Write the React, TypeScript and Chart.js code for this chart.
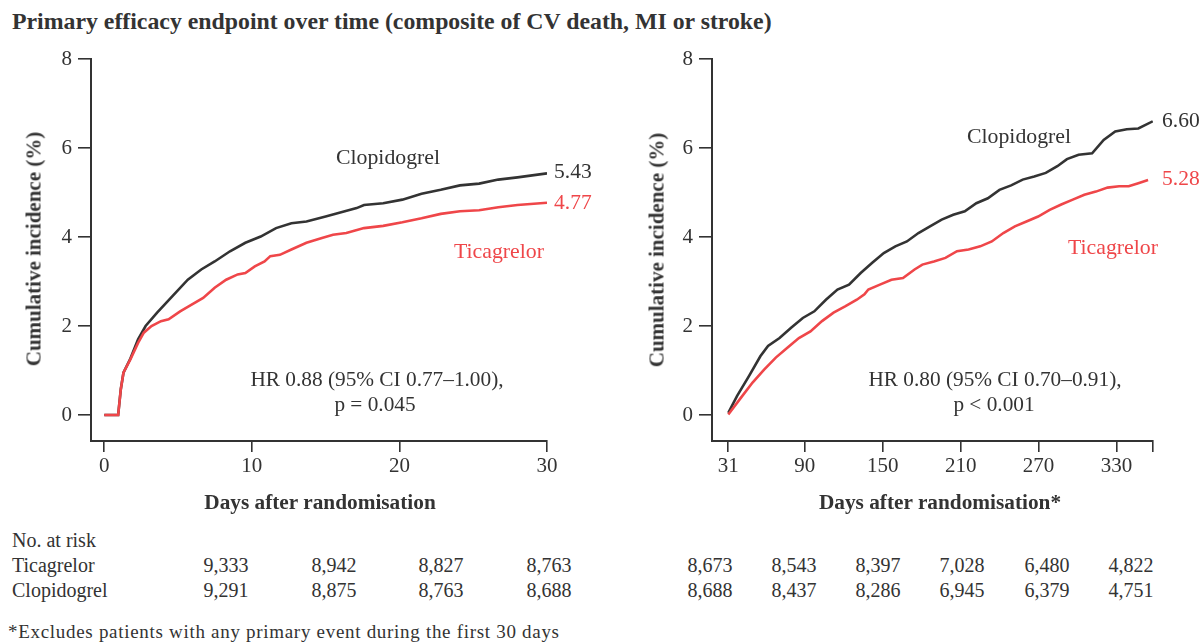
import React, { useEffect, useRef } from 'react';
import { Chart, registerables } from 'chart.js';

Chart.register(...registerables);

const FONT = '"Liberation Serif", "Times New Roman", serif';
const INK = '#333333';
const RED = '#ef4649';

// ---------- data ----------
const yTickValues = [0, 2, 4, 6, 8];

const leftXTickValues = [0, 10, 20, 30];
const leftXTickLabels = ['0', '10', '20', '30'];

const rightXTickValues = [31, 90, 150, 210, 270, 330, 358];
const rightXTickLabels = ['31', '90', '150', '210', '270', '330', ''];

// Left panel: days 0-30
const leftTicaDays = [0, 0.94, 1.12, 1.3, 1.77, 2.29, 2.68, 3.2, 3.84, 4.36, 5.14, 5.92, 6.7, 7.48, 8.26, 9.04, 9.56, 10.2, 10.86, 11.25, 11.9, 12.68, 13.7, 14.75, 15.5, 16.4, 17.6, 18.9, 20.2, 21.5, 22.8, 24.1, 25.4, 26.7, 28.0, 30];
const leftTicaPct = [0, 0, 0.58, 0.95, 1.25, 1.62, 1.85, 2.0, 2.11, 2.15, 2.33, 2.48, 2.63, 2.86, 3.04, 3.16, 3.19, 3.34, 3.45, 3.57, 3.6, 3.72, 3.87, 3.98, 4.05, 4.09, 4.2, 4.25, 4.33, 4.42, 4.52, 4.58, 4.6, 4.67, 4.72, 4.77];

const leftClopDays = [0, 0.94, 1.12, 1.3, 1.77, 2.29, 2.8, 3.58, 4.62, 5.66, 6.57, 7.48, 8.52, 9.56, 10.6, 11.64, 12.68, 13.7, 15.0, 16.3, 17.1, 17.6, 18.9, 20.2, 21.5, 22.8, 24.1, 25.4, 26.7, 28.0, 30];
const leftClopPct = [0, 0, 0.58, 0.95, 1.27, 1.7, 2.0, 2.3, 2.67, 3.04, 3.27, 3.45, 3.68, 3.87, 4.01, 4.2, 4.31, 4.35, 4.46, 4.58, 4.65, 4.72, 4.76, 4.84, 4.97, 5.06, 5.16, 5.2, 5.29, 5.34, 5.43];

// Right panel: days 31-360
const rightTicaDays = [31, 40.8, 49.7, 58.6, 67.6, 76.5, 85.4, 94.3, 103.2, 112.1, 121, 130, 135.9, 138.9, 147.8, 156.7, 165.6, 174.5, 180.5, 189.4, 198.3, 207.2, 216.1, 225.1, 234, 242.9, 251.8, 260.7, 269.7, 278.6, 287.5, 296.4, 305.3, 314.2, 323.2, 332.1, 339.5, 346.9, 354.4];
const rightTicaPct = [0.01, 0.39, 0.73, 1.02, 1.29, 1.51, 1.73, 1.88, 2.11, 2.3, 2.44, 2.59, 2.71, 2.82, 2.93, 3.04, 3.08, 3.27, 3.38, 3.45, 3.53, 3.68, 3.72, 3.79, 3.9, 4.09, 4.24, 4.35, 4.46, 4.61, 4.73, 4.84, 4.95, 5.02, 5.11, 5.14, 5.14, 5.21, 5.28];

const rightClopDays = [31, 37.8, 46.8, 55.7, 61.6, 70.5, 79.4, 88.4, 97.3, 106.2, 115.1, 124, 133, 141.9, 150.8, 159.7, 168.6, 177.5, 186.4, 195.4, 204.3, 213.2, 222.1, 231, 239.9, 248.9, 257.8, 266.7, 275.6, 284.5, 291.9, 300.9, 311.3, 320.2, 329.1, 338, 346.9, 358];
const rightClopPct = [0.05, 0.43, 0.87, 1.32, 1.55, 1.73, 1.96, 2.18, 2.33, 2.59, 2.82, 2.93, 3.19, 3.42, 3.64, 3.79, 3.9, 4.09, 4.24, 4.39, 4.5, 4.58, 4.76, 4.87, 5.06, 5.16, 5.29, 5.36, 5.44, 5.59, 5.75, 5.85, 5.88, 6.18, 6.37, 6.42, 6.44, 6.6];

// Numbers at risk
const riskLeftTica = ['9,333', '8,942', '8,827', '8,763'];
const riskLeftClop = ['9,291', '8,875', '8,763', '8,688'];
const riskRightTica = ['8,673', '8,543', '8,397', '7,028', '6,480', '4,822'];
const riskRightClop = ['8,688', '8,437', '8,286', '6,945', '6,379', '4,751'];

// ---------- helpers ----------
const toPoints = (xs: number[], ys: number[]) => xs.map((x, i) => ({ x, y: ys[i] }));

type PanelProps = {
  left: number;
  width: number;
  height: number;
  padding: { left: number; right: number; top: number; bottom: number };
  xMin: number;
  xMax: number;
  xTicks: number[];
  xLabels: string[];
  yMin: number;
  tica: { x: number; y: number }[];
  clop: { x: number; y: number }[];
};

function Panel(p: PanelProps) {
  const ref = useRef<HTMLCanvasElement | null>(null);
  useEffect(() => {
    if (!ref.current) return;
    const tickFont = { family: FONT, size: 21 };
    const chart = new Chart(ref.current, {
      type: 'line',
      data: {
        datasets: [
          {
            label: 'Ticagrelor',
            data: p.tica,
            borderColor: RED,
            borderWidth: 2.6,
            pointRadius: 0,
            tension: 0,
            fill: false,
          },
          {
            label: 'Clopidogrel',
            data: p.clop,
            borderColor: INK,
            borderWidth: 2.6,
            pointRadius: 0,
            tension: 0,
            fill: false,
          },
        ],
      },
      options: {
        animation: false,
        responsive: false,
        maintainAspectRatio: false,
        devicePixelRatio: 1,
        layout: { padding: p.padding },
        plugins: { legend: { display: false }, tooltip: { enabled: false }, title: { display: false } },
        scales: {
          x: {
            type: 'linear',
            min: p.xMin,
            max: p.xMax,
            afterBuildTicks: (s: any) => {
              s.ticks = p.xTicks.map((v) => ({ value: v }));
            },
            afterFit: (s: any) => {
              s.height = 40;
            },
            ticks: {
              font: tickFont,
              color: INK,
              padding: 2,
              autoSkip: false,
              maxRotation: 0,
              callback: (_v: any, i: number) => p.xLabels[i],
            },
            grid: { drawOnChartArea: false, drawTicks: true, tickLength: 11, color: INK, lineWidth: 1.6 },
            border: { display: true, color: INK, width: 2 },
          },
          y: {
            type: 'linear',
            min: p.yMin,
            max: 8,
            afterBuildTicks: (s: any) => {
              s.ticks = yTickValues.map((v) => ({ value: v }));
            },
            afterFit: (s: any) => {
              s.width = 60;
            },
            ticks: { font: tickFont, color: INK, padding: 6, autoSkip: false, callback: (v: any) => String(v) },
            grid: { drawOnChartArea: false, drawTicks: true, tickLength: 13, color: INK, lineWidth: 1.6 },
            border: { display: true, color: INK, width: 2 },
          },
        },
      },
    } as any);
    return () => chart.destroy();
  }, []);
  return (
    <canvas
      ref={ref}
      width={p.width}
      height={p.height}
      style={{ position: 'absolute', left: p.left, top: 40, width: p.width, height: p.height }}
    />
  );
}

type TxtProps = {
  x: number;
  y: number;
  children: React.ReactNode;
  size?: number;
  bold?: boolean;
  color?: string;
  align?: 'left' | 'center';
  rotate?: boolean;
  spacing?: number;
};

function Txt({ x, y, children, size = 21, bold = false, color = INK, align = 'left', rotate = false, spacing = 0 }: TxtProps) {
  const tx = align === 'center' ? '-50%' : '0';
  return (
    <div
      style={{
        position: 'absolute',
        left: x,
        top: y,
        transform: rotate ? 'translate(-50%, -50%) rotate(-90deg)' : `translate(${tx}, -50%)`,
        fontFamily: FONT,
        fontSize: size,
        fontWeight: bold ? 'bold' : 'normal',
        color,
        whiteSpace: 'nowrap',
        lineHeight: 1,
        letterSpacing: spacing,
        textAlign: align,
      }}
    >
      {children}
    </div>
  );
}

const leftRiskX = [226, 334, 441, 549];
const rightRiskX = [710, 794, 878, 962, 1047, 1131];

export default function App() {
  return (
    <div style={{ position: 'absolute', left: 0, top: 0, width: 1204, height: 644, background: '#fff', overflow: 'hidden' }}>
      <Txt x={12} y={22} bold size={23.8}>
        Primary efficacy endpoint over time (composite of CV death, MI or stroke)
      </Txt>

      <Panel
        left={0}
        width={600}
        height={480}
        padding={{ left: 31, right: 53, top: 19, bottom: 39 }}
        xMin={-0.9}
        xMax={30}
        xTicks={leftXTickValues}
        xLabels={leftXTickLabels}
        yMin={-0.584}
        tica={toPoints(leftTicaDays, leftTicaPct)}
        clop={toPoints(leftClopDays, leftClopPct)}
      />
      <Panel
        left={602}
        width={602}
        height={480}
        padding={{ left: 50, right: 51, top: 19, bottom: 39 }}
        xMin={18.45}
        xMax={358.2}
        xTicks={rightXTickValues}
        xLabels={rightXTickLabels}
        yMin={-0.584}
        tica={toPoints(rightTicaDays, rightTicaPct)}
        clop={toPoints(rightClopDays, rightClopPct)}
      />

      {/* axis titles */}
      <Txt x={34} y={249} bold rotate align="center" size={21}>Cumulative incidence (%)</Txt>
      <Txt x={657} y={250} bold rotate align="center" size={21}>Cumulative incidence (%)</Txt>
      <Txt x={320} y={503} bold align="center" size={21.3}>Days after randomisation</Txt>
      <Txt x={940} y={503} bold align="center" size={21.3}>Days after randomisation*</Txt>

      {/* left annotations */}
      <Txt x={388} y={158} align="center" size={21.8}>Clopidogrel</Txt>
      <Txt x={499} y={252} align="center" color={RED} size={21.8}>Ticagrelor</Txt>
      <Txt x={554} y={172} size={21.5}>5.43</Txt>
      <Txt x={554} y={203} color={RED} size={21.5}>4.77</Txt>
      <Txt x={377} y={380} align="center" size={21.3}>HR 0.88 (95% CI 0.77–1.00),</Txt>
      <Txt x={375} y={405} align="center" size={21.3}>p = 0.045</Txt>

      {/* right annotations */}
      <Txt x={1019} y={137} align="center" size={21.8}>Clopidogrel</Txt>
      <Txt x={1113} y={248} align="center" color={RED} size={21.8}>Ticagrelor</Txt>
      <Txt x={1162} y={121} size={21.5}>6.60</Txt>
      <Txt x={1162} y={179} color={RED} size={21.5}>5.28</Txt>
      <Txt x={995} y={380} align="center" size={21.3}>HR 0.80 (95% CI 0.70–0.91),</Txt>
      <Txt x={994} y={405} align="center" size={21.3}>p &lt; 0.001</Txt>

      {/* risk table */}
      <Txt x={12} y={540} size={20}>No. at risk</Txt>
      <Txt x={12} y={565} size={20}>Ticagrelor</Txt>
      <Txt x={12} y={590} size={20}>Clopidogrel</Txt>
      {riskLeftTica.map((t, i) => (
        <Txt key={'lt' + i} x={leftRiskX[i]} y={565} align="center" size={20}>{t}</Txt>
      ))}
      {riskLeftClop.map((t, i) => (
        <Txt key={'lc' + i} x={leftRiskX[i]} y={590} align="center" size={20}>{t}</Txt>
      ))}
      {riskRightTica.map((t, i) => (
        <Txt key={'rt' + i} x={rightRiskX[i]} y={565} align="center" size={20}>{t}</Txt>
      ))}
      {riskRightClop.map((t, i) => (
        <Txt key={'rc' + i} x={rightRiskX[i]} y={590} align="center" size={20}>{t}</Txt>
      ))}

      <Txt x={8} y={631} size={19} spacing={0.7}>*Excludes patients with any primary event during the first 30 days</Txt>
    </div>
  );
}
